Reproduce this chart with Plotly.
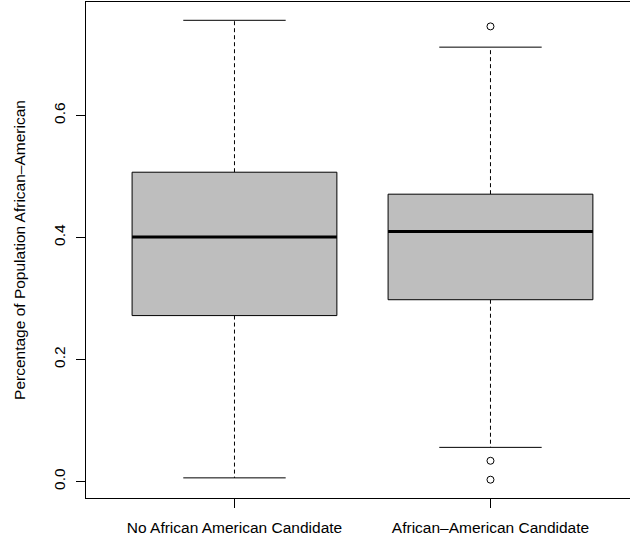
import plotly.graph_objects as go

# ---- data ----
categories = ["No African American Candidate", "African\u2013American Candidate"]
positions = [1, 2]
q1 = [0.272, 0.298]
median = [0.401, 0.410]
q3 = [0.507, 0.471]
lower_whisker = [0.006, 0.056]
upper_whisker = [0.756, 0.712]
outliers = [[], [0.746, 0.034, 0.003]]
y_ticks = [0.0, 0.2, 0.4, 0.6]
y_tick_labels = ["0.0", "0.2", "0.4", "0.6"]

BOX_HALF = 0.4
STAPLE_HALF = 0.2
FONT = "Liberation Sans, Arial, Helvetica, sans-serif"
FS = 15.5

fig = go.Figure()
for i, c in enumerate(positions):
    # whiskers (dashed)
    fig.add_trace(go.Scatter(x=[c, c], y=[q3[i], upper_whisker[i]], mode="lines",
                             line=dict(color="black", width=1, dash="4px,3px"),
                             hoverinfo="skip", showlegend=False))
    fig.add_trace(go.Scatter(x=[c, c], y=[q1[i], lower_whisker[i]], mode="lines",
                             line=dict(color="black", width=1, dash="4px,3px"),
                             hoverinfo="skip", showlegend=False))
    # staples
    for w in (upper_whisker[i], lower_whisker[i]):
        fig.add_trace(go.Scatter(x=[c - STAPLE_HALF, c + STAPLE_HALF], y=[w, w], mode="lines",
                                 line=dict(color="black", width=1),
                                 hoverinfo="skip", showlegend=False))
    # box
    fig.add_trace(go.Scatter(
        x=[c - BOX_HALF, c + BOX_HALF, c + BOX_HALF, c - BOX_HALF, c - BOX_HALF],
        y=[q1[i], q1[i], q3[i], q3[i], q1[i]],
        mode="lines", fill="toself", fillcolor="#BEBEBE",
        line=dict(color="black", width=1), hoverinfo="skip", showlegend=False))
    # median
    fig.add_trace(go.Scatter(x=[c - BOX_HALF, c + BOX_HALF], y=[median[i], median[i]], mode="lines",
                             line=dict(color="black", width=3),
                             hoverinfo="skip", showlegend=False))
    # outliers
    if outliers[i]:
        fig.add_trace(go.Scatter(x=[c] * len(outliers[i]), y=outliers[i], mode="markers",
                                 marker=dict(symbol="circle-open", size=7, color="black",
                                             line=dict(width=1, color="black")),
                                 hoverinfo="skip", showlegend=False))

fig.update_layout(
    width=630, height=539,
    margin=dict(l=86, r=0, t=2, b=41, pad=0),
    paper_bgcolor="white", plot_bgcolor="white",
    font=dict(family=FONT, size=FS, color="black"),
    showlegend=False,
    xaxis=dict(range=[0.42, 2.545], tickmode="array", tickvals=positions, ticktext=categories,
               showgrid=False, zeroline=False, showline=True, mirror=True,
               linecolor="black", linewidth=1, ticks="outside", ticklen=9,
               tickcolor="black", tickwidth=1, tickfont=dict(size=FS),
               ticklabelstandoff=6),
    yaxis=dict(range=[-0.027, 0.786], tickmode="array", tickvals=y_ticks, ticktext=y_tick_labels,
               tickangle=-90, showgrid=False, zeroline=False, showline=True, mirror=False,
               linecolor="black", linewidth=1, ticks="outside", ticklen=9,
               tickcolor="black", tickwidth=1, tickfont=dict(size=FS),
               ticklabelstandoff=5,
               title=dict(text="Percentage of Population African\u2013American",
                          font=dict(size=FS), standoff=21)),
)

fig.write_html("out.html", config={"displayModeBar": False},
               post_script="document.body.style.margin='0';")
